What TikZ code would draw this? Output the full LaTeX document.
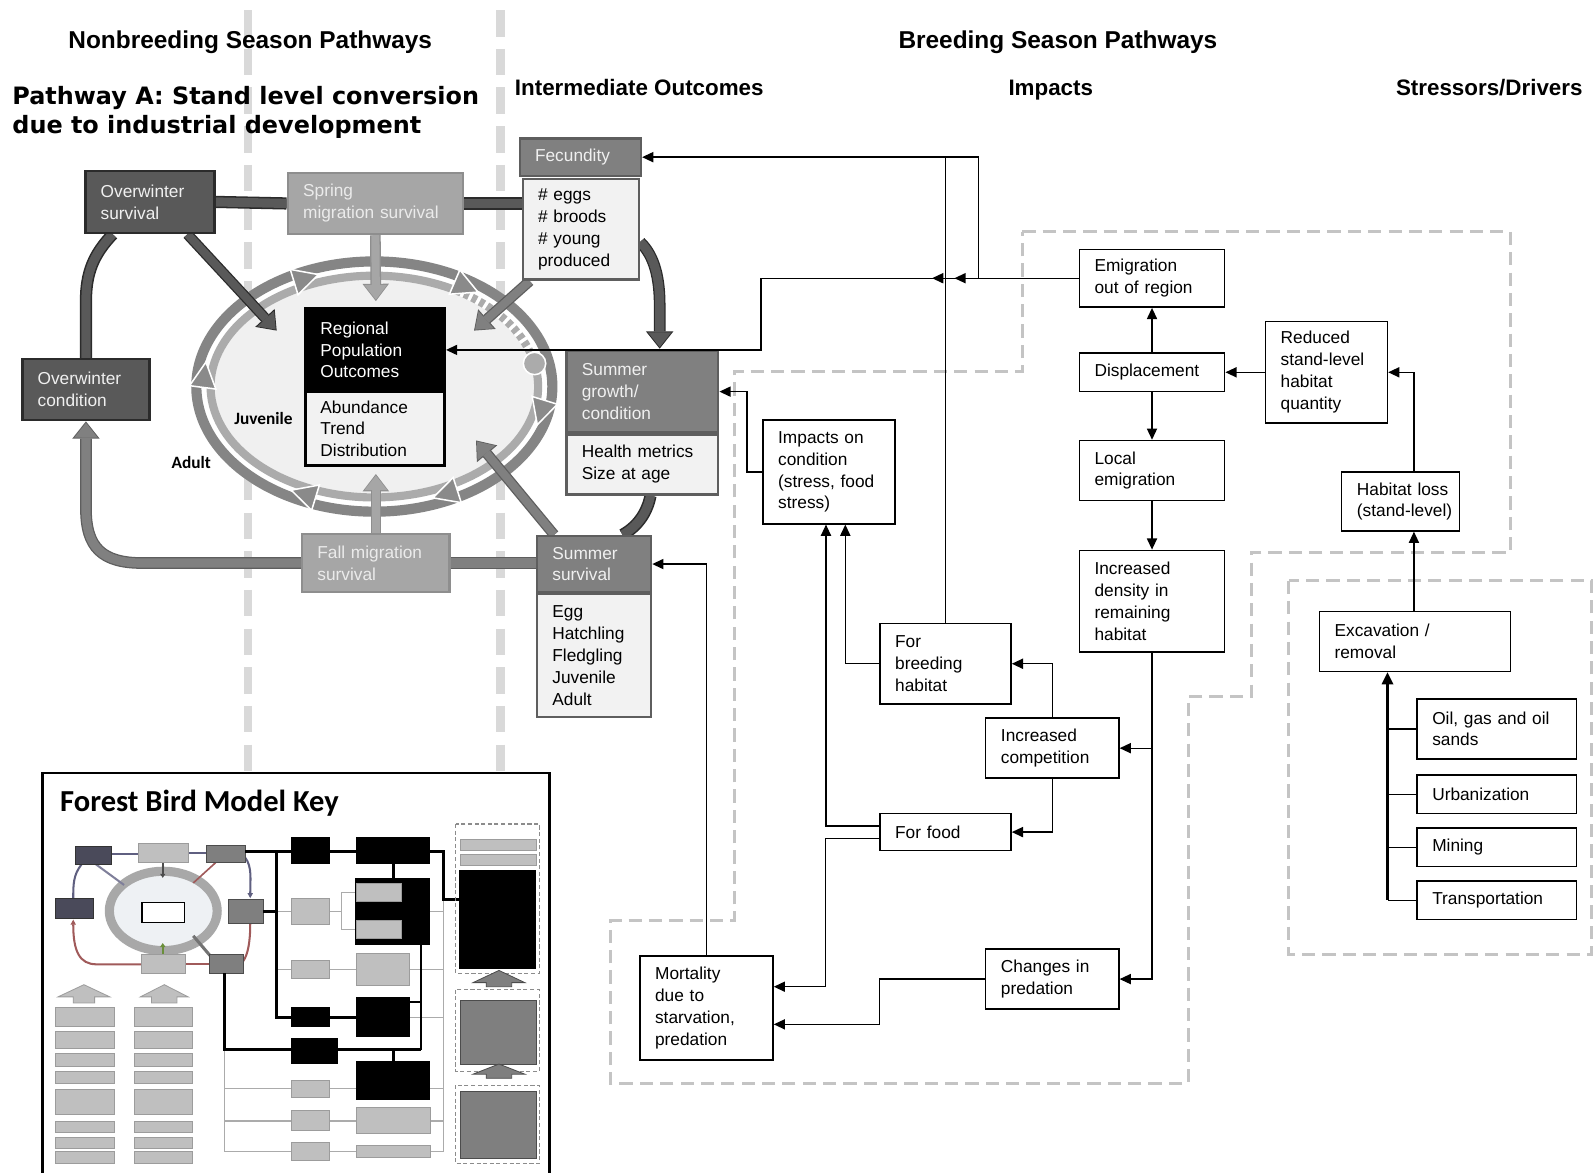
\documentclass[tikz,border=0pt]{standalone}
\usepackage{fontspec}
\setmainfont{Liberation Sans}
\newfontfamily\heavyfont{DejaVu Sans}
\newfontfamily\calfont{Carlito}
\usetikzlibrary{arrows.meta,calc,decorations.markings}
\pgfdeclarelayer{back}
\pgfsetlayers{back,main}

\definecolor{dkfill}{HTML}{595959}
\definecolor{dkedge}{HTML}{2B2B2B}
\definecolor{mdfill}{HTML}{808080}
\definecolor{mdedge}{HTML}{5E5E5E}
\definecolor{ltfill}{HTML}{A6A6A6}
\definecolor{ltedge}{HTML}{8E8E8E}
\definecolor{bodyfill}{HTML}{F2F2F2}
\definecolor{sepgray}{HTML}{D9D9D9}
\definecolor{dashgray}{HTML}{C4C4C4}
\definecolor{ringout}{HTML}{858585}
\definecolor{ringin}{HTML}{ABABAB}
\definecolor{ellfill}{HTML}{F0F0F0}
\definecolor{trifill}{HTML}{8A8A8A}
\definecolor{kdark}{HTML}{4A4A5A}
\definecolor{klight}{HTML}{BFBFBF}
\definecolor{klightedge}{HTML}{9C9C9C}
\definecolor{kmid}{HTML}{7F7F7F}
\definecolor{kpurple}{HTML}{5F5F80}
\definecolor{kred}{HTML}{A05A5A}
\definecolor{kthin}{HTML}{ABABAB}
\definecolor{kring}{HTML}{A8A8A8}
\definecolor{kinner}{HTML}{EEF1F4}
\definecolor{kgreen}{HTML}{6A8F3A}

\tikzset{
  txt/.style={font=\fontsize{17}{21.5}\selectfont, align=left},
  bx/.style={draw=black, line width=1.4pt, fill=white, txt, inner xsep=15pt, inner ysep=0pt},
  lcdark/.style={draw=dkedge, line width=2.5pt, fill=dkfill, text=white!94!black, txt, inner xsep=15pt, inner ysep=0pt},
  lcmid/.style={draw=mdedge, line width=2.5pt, fill=mdfill, text=white!94!black, txt, inner xsep=15pt, inner ysep=0pt},
  lclight/.style={draw=ltedge, line width=2.5pt, fill=ltfill, text=white!92!black, txt, inner xsep=15pt, inner ysep=0pt},
  lcbody/.style={draw=mdedge, line width=2.5pt, fill=bodyfill, text=black, txt, inner xsep=15pt, inner ysep=0pt},
  regtop/.style={draw=black, line width=3pt, fill=black, text=white, txt, inner xsep=15pt, inner ysep=0pt},
  regbody/.style={draw=black, line width=3pt, fill=bodyfill, text=black, txt, inner xsep=15pt, inner ysep=0pt},
  ln/.style={line width=1.3pt},
  arr/.style={line width=1.3pt, -{Triangle[length=11pt,width=10pt]}},
  zone/.style={draw=dashgray, line width=3pt, dash pattern=on 13pt off 7pt},
  sepline/.style={draw=sepgray, line width=8pt, dash pattern=on 26pt off 12pt},
  headfont/.style={font=\bfseries\fontsize{24}{28}\selectfont, inner sep=0pt},
  subfont/.style={font=\bfseries\fontsize{22}{26}\selectfont, inner sep=0pt},
  lifelabel/.style={font=\calfont\bfseries\fontsize{17}{20}\selectfont, inner sep=0pt},
  kthick/.style={line width=2.6pt, draw=black},
  kthinl/.style={line width=1.1pt, draw=kthin},
  kbl/.style={fill=black},
  klt/.style={fill=klight, draw=klightedge, line width=0.8pt},
  kmd/.style={fill=kmid, draw=black!70, line width=0.8pt},
  kdk/.style={fill=kdark, draw=black!80, line width=0.8pt},
  kzone/.style={draw=black!45, line width=1.1pt, dash pattern=on 4pt off 2.5pt},
}

% box from corner coordinates: style, name, x1, y1, x2, y2, text
\newcommand\boxnode[7]{%
  \pgfmathsetmacro\bxcx{(#3+#5)/2}%
  \pgfmathsetmacro\bxcy{(#4+#6)/2}%
  \pgfmathsetmacro\bxw{#5-#3}%
  \pgfmathsetmacro\bxh{#6-#4}%
  \pgfmathsetmacro\bxtw{#5-#3-30}%
  \node[minimum width=\bxw pt, minimum height=\bxh pt, text width=\bxtw pt, #1] (#2) at (\bxcx,\bxcy) {#7};%
}

\begin{document}
\begin{tikzpicture}[x=1pt,y=-1pt]
\useasboundingbox (0,0) rectangle (1568,1153);

% headings
\node[headfont, anchor=base] (hnb) at (246,48) {Nonbreeding Season Pathways};
\node[headfont, anchor=base] (hbr) at (1040,48) {Breeding Season Pathways};
\node[subfont, anchor=base west] (hio) at (506,94) {Intermediate Outcomes};
\node[subfont, anchor=base] (him) at (1033,94) {Impacts};
\node[subfont, anchor=base east] (hsd) at (1556,94) {Stressors/Drivers};
\node[font=\heavyfont\bfseries\fontsize{23.5}{29}\selectfont, anchor=west, align=left, inner sep=0pt] (hpa) at (12,110.5)
  {Pathway A: Stand level conversion\\due to industrial development};

% dashed zones
\draw[zone] (1005,228) -- (1485,228) -- (1485,543) -- (1230,543) -- (1230,685) -- (1168,685)
  -- (1168,1065) -- (600,1065) -- (600,905) -- (722,905) -- (722,365) -- (1005,365) -- cycle;
\draw[zone] (1267,571) rectangle (1565,938);

% ---------- life cycle boxes
\boxnode{lcdark}{owsurv}{84}{168}{211}{229}{Overwinter\\survival}
\boxnode{lclight}{spring}{283}{170}{455}{230}{Spring\\migration survival}
\boxnode{lcmid}{fech}{511}{136}{630}{173}{Fecundity}
\boxnode{lcbody}{fecb}{514}{176}{628}{275}{\# eggs\\\# broods\\\# young\\produced}
\boxnode{lcdark}{owcond}{22}{353}{147}{413}{Overwinter\\condition}
\boxnode{lcmid}{growh}{557}{345}{706}{425}{Summer\\growth/\\condition}
\boxnode{lcbody}{growb}{557}{427}{706}{486}{Health metrics\\Size at age}
\boxnode{lcmid}{survh}{528}{527}{640}{582}{Summer\\survival}
\boxnode{lcbody}{survb}{528}{584}{640}{705}{Egg\\Hatchling\\Fledgling\\Juvenile\\Adult}
\boxnode{lclight}{fall}{297}{525}{442}{582}{Fall migration\\survival}
\boxnode{regtop}{regh}{300}{303}{437}{385}{Regional\\Population\\Outcomes}
\boxnode{regbody}{regb}{300}{385}{437}{458}{Abundance\\Trend\\Distribution}

\begin{pgfonlayer}{back}
\fill[white] (0,0) rectangle (1568,1153);
% season separators
\draw[sepline] (244,10) -- (244,758);
\draw[sepline] (492,10) -- (492,758);

% bars between stages
\draw[line width=12pt, dkedge] (owsurv.east) -- (spring.west);
\draw[line width=9pt, dkfill] (owsurv.east) -- (spring.west);
\draw[line width=12pt, dkedge] (spring.east) -- (spring.east -| fecb.west);
\draw[line width=9pt, dkfill] (spring.east) -- (spring.east -| fecb.west);
\draw[line width=12pt, mdedge] (fall.east) -- (fall.east -| survh.west);
\draw[line width=9pt, mdfill] (fall.east) -- (fall.east -| survh.west);

% overwinter survival to overwinter condition
\draw[line width=12pt, dkedge] ($(owsurv.south west)+(28,0)$) .. controls (92,250) and (84.5,268) .. (84.5,296) -- (owcond.north);
\draw[line width=9pt, dkfill] ($(owsurv.south west)+(28,0)$) .. controls (92,250) and (84.5,268) .. (84.5,296) -- (owcond.north);

% fall migration back to overwinter condition
\draw[line width=11.5pt, mdedge, -{Triangle[length=17pt,width=27pt,line width=0pt]}]
  (fall.west) -- (140,553.5) .. controls (100,553.5) and (84.5,538) .. (84.5,500) -- (owcond.south);
\draw[line width=9pt, mdfill, shorten >=1.5pt, -{Triangle[length=14.5pt,width=23pt,line width=0pt]}]
  (fall.west) -- (140,553.5) .. controls (100,553.5) and (84.5,538) .. (84.5,500) -- (owcond.south);

% fecundity to summer growth
\draw[line width=11.5pt, dkedge, -{Triangle[length=17pt,width=27pt,line width=0pt]}]
  ($(fecb.east)+(0,12.5)$) .. controls (644,252) and (648.5,275) .. (648.5,300) -- ($(growh.north)+(17,-1)$);
\draw[line width=9pt, dkfill, shorten >=1.5pt, -{Triangle[length=14.5pt,width=23pt,line width=0pt]}]
  ($(fecb.east)+(0,12.5)$) .. controls (644,252) and (648.5,275) .. (648.5,300) -- ($(growh.north)+(17,-1)$);

% summer growth to summer survival
\draw[line width=12pt, dkedge] ($(growb.south)+(8,0)$) .. controls (636,505) and (626,518) .. ($(survh.north)+(28,0)$);
\draw[line width=9pt, dkfill] ($(growb.south)+(8,0)$) .. controls (636,505) and (626,518) .. ($(survh.north)+(28,0)$);

% ---------- population ellipse
\coordinate (C) at (368,380);
\fill[white] (C) ellipse [x radius=180, y radius=128];
\fill[ellfill] (C) ellipse [x radius=157, y radius=105];
\draw[ringout, line width=10pt] (C) ellipse [x radius=175, y radius=123];
\draw[ringin, line width=8pt] ($(C)+(350:161 and 109)$) arc[start angle=350, end angle=660, x radius=161, y radius=109];
\draw[ringin, line width=8pt, dash pattern=on 5pt off 3.5pt] ($(C)+(300:161 and 109)$) arc[start angle=300, end angle=342, x radius=161, y radius=109];
\filldraw[fill=ringin, draw=white, line width=1.5pt] ($(C)+(348:161 and 109)$) circle[radius=11];
\foreach \ta in {246,302,12,65,114,185}{
  \pgfmathsetmacro\ang{atan2(-116*cos(\ta),-168*sin(\ta))}
  \begin{scope}[shift={($(C)+(\ta:168 and 116)$)}, rotate=\ang]
    \filldraw[fill=trifill, draw=white, line width=1.5pt] (14,0) -- (-11,13) -- (-11,-13) -- cycle;
  \end{scope}
}

% landing points of the stage arrows on the ring
\coordinate (eNW) at (272,325);
\coordinate (eN) at (369.5,296);
\coordinate (eNE) at (466,325);
\coordinate (eSE) at (468,433);
\coordinate (eS) at (369.5,466);

\draw[line width=10.5pt, dkedge, -{Triangle[length=17pt,width=26pt,line width=0pt]}] ($(owsurv.south east)+(-28,0)$) -- (eNW);
\draw[line width=8pt, dkfill, shorten >=1.4pt, -{Triangle[length=14.5pt,width=22.5pt,line width=0pt]}] ($(owsurv.south east)+(-28,0)$) -- (eNW);
\draw[line width=10.5pt, ltedge, -{Triangle[length=17pt,width=26pt,line width=0pt]}] (spring.south) -- (eN);
\draw[line width=8pt, ltfill, shorten >=1.4pt, -{Triangle[length=14.5pt,width=22.5pt,line width=0pt]}] (spring.south) -- (eN);
\draw[line width=10.5pt, mdedge, -{Triangle[length=17pt,width=26pt,line width=0pt]}] ($(fecb.south west)+(8,0)$) -- (eNE);
\draw[line width=8pt, mdfill, shorten >=1.4pt, -{Triangle[length=14.5pt,width=22.5pt,line width=0pt]}] ($(fecb.south west)+(8,0)$) -- (eNE);
\draw[line width=10.5pt, mdedge, -{Triangle[length=17pt,width=26pt,line width=0pt]}] ($(survh.north west)+(18,0)$) -- (eSE);
\draw[line width=8pt, mdfill, shorten >=1.4pt, -{Triangle[length=14.5pt,width=22.5pt,line width=0pt]}] ($(survh.north west)+(18,0)$) -- (eSE);
\draw[line width=10.5pt, ltedge, -{Triangle[length=17pt,width=26pt,line width=0pt]}] (fall.north) -- (eS);
\draw[line width=8pt, ltfill, shorten >=1.4pt, -{Triangle[length=14.5pt,width=22.5pt,line width=0pt]}] (fall.north) -- (eS);
\end{pgfonlayer}

\node[lifelabel] (juv) at (259,411) {Juvenile};
\node[lifelabel] (adu) at (188,455) {Adult};

% ---------- impact and driver boxes
\boxnode{bx}{emig}{1061}{245}{1204}{302}{Emigration\\out of region}
\boxnode{bx}{disp}{1061}{347}{1204}{385}{Displacement}
\boxnode{bx}{loc}{1061}{433}{1204}{492}{Local\\emigration}
\boxnode{bx}{dens}{1061}{541}{1204}{641}{Increased\\density in\\remaining\\habitat}
\boxnode{bx}{red}{1244}{316}{1364}{416}{Reduced\\stand-level\\habitat\\quantity}
\boxnode{bx}{hab}{1319}{464}{1435}{522}{\mbox{Habitat loss}\\\mbox{(stand-level)}}
\boxnode{bx}{exc}{1297}{601}{1485}{660}{Excavation /\\removal}
\boxnode{bx}{oil}{1393}{687}{1550}{746}{Oil, gas and oil\\sands}
\boxnode{bx}{urb}{1393}{762}{1550}{800}{Urbanization}
\boxnode{bx}{mine}{1393}{814}{1550}{852}{Mining}
\boxnode{bx}{trans}{1393}{866}{1550}{904}{Transportation}
\boxnode{bx}{imp}{750}{413}{880}{515}{Impacts on\\condition\\(stress, food\\stress)}
\boxnode{bx}{brd}{865}{613}{994}{692}{For\\breeding\\habitat}
\boxnode{bx}{comp}{969}{706}{1100}{765}{Increased\\competition}
\boxnode{bx}{food}{865}{800}{994}{836}{For food}
\boxnode{bx}{pred}{969}{933}{1100}{992}{Changes in\\predation}
\boxnode{bx}{mort}{629}{940}{760}{1042}{Mortality\\due to\\starvation,\\predation}

% ---------- thin connectors
\draw[arr] (disp.north) -- (emig.south);
\draw[arr] (disp.south) -- (loc.north);
\draw[arr] (loc.south) -- (dens.north);
\draw[arr] (red.west) -- (disp.east);
\coordinate (hx) at (1390,0);
\draw[arr] (exc.north -| hx) -- (hab.south -| hx);
\draw[arr] (hab.north -| hx) |- (red.east);
\coordinate (sx) at (1364,0);
\draw[ln] (oil.west) -- (oil.west -| sx);
\draw[ln] (urb.west) -- (urb.west -| sx);
\draw[ln] (mine.west) -- (mine.west -| sx);
\draw[ln] (trans.west) -- (trans.west -| sx);
\draw[line width=2.6pt, -{Triangle[length=12pt,width=11pt]}] (trans.west -| sx) -- (exc.south -| sx);

\draw[arr] (dens.south) |- (comp.east);
\draw[arr] (dens.south) |- (pred.east);
\draw[arr] (comp.north) |- (brd.east);
\draw[arr] (comp.south) |- (food.east);
\draw[arr] (brd.west) -| ([xshift=16pt]imp.south);
\draw[arr] ([yshift=6pt]food.west) -| ([xshift=-3pt]imp.south);
\draw[arr] ([yshift=-6pt]food.west) -- ++(-53,0) |- ([yshift=21pt]mort.east);
\draw[arr] (pred.west) -- ++(-104,0) |- ([yshift=-16pt]mort.east);
\draw[arr] (mort.north) |- (survh.east);
\draw[arr] (imp.west) -- ++(-15,0) |- (growh.east);

\draw[arr, postaction={decorate}, decoration={markings,
    mark=at position 122pt with {\arrow{Triangle[length=11pt,width=10pt]}},
    mark=at position 144pt with {\arrow{Triangle[length=11pt,width=10pt]}}}]
  (emig.west) -- (748,273.5) |- (regh.east);
\coordinate (j1) at (962,273.5);
\draw[arr] (j1) |- (fech.east);
\draw[ln] (brd.north) -- (brd.north |- fech.east);

% ---------- model key
\draw[line width=2.5pt, fill=white] (42,760) rectangle (540,1165);
\node[anchor=west, font=\calfont\bfseries\fontsize{30}{36}\selectfont, inner sep=0pt] (keytitle) at (59,790) {Forest Bird Model Key};

% miniature life cycle
\draw[kpurple, line width=2pt] (110,840) -- (136,840);
\draw[kpurple, line width=2pt] (185,839) -- (203,839);
\draw[kpurple, line width=2pt] (80,850) .. controls (72,860) and (72,870) .. (72,883);
\draw[kpurple, line width=2pt, -{Triangle[length=5pt,width=5pt]}] (241,843) .. controls (248,852) and (246,865) .. (246,883);
\draw[kred, line width=2pt, -{Triangle[length=5pt,width=5pt]}] (139,948) -- (95,948) .. controls (78,948) and (72,935) .. (72,904);
\draw[kred, line width=2pt] (182,948) -- (206,948);
\draw[kred, line width=2pt] (246,908) .. controls (246,925) and (244,938) .. (239,945);
\fill[kinner] (160.5,895.5) ellipse [x radius=50, y radius=36];
\draw[kring, line width=9pt] (160.5,895.5) ellipse [x radius=53, y radius=39];
\draw[kpurple!80, line width=2pt] (92,848) -- (122,870);
\draw[kred, line width=1.6pt] (212,848) -- (190,868);
\draw[black!55, line width=3pt] (207,940) -- (190,920);
\draw[black!70, line width=2pt, -{Triangle[length=4pt,width=5pt]}] (160,848) -- (160,863);
\draw[kgreen, line width=2pt, -{Triangle[length=4pt,width=5pt]}] (160,938) -- (160,927);
\filldraw[fill=white, draw=black, line width=1.2pt] (139.5,887) rectangle (181,907);
\filldraw[kdk] (74,832) rectangle (110,850);
\filldraw[klt] (136,829) rectangle (185,848);
\filldraw[kmd] (203,831) rectangle (241,848);
\filldraw[kdk] (54,883) rectangle (92,903);
\filldraw[kmd] (225,884) rectangle (259,908);
\filldraw[klt] (139,938) rectangle (182,957);
\filldraw[kmd] (206,938) rectangle (239,957);

% miniature stage lists
\filldraw[klt] (57,980) -- (82.5,968) -- (108,980) -- (93,980) -- (93,986) -- (72,986) -- (72,980) -- cycle;
\filldraw[klt] (138,980) -- (161.5,968) -- (185,980) -- (174,980) -- (174,986) -- (149,986) -- (149,980) -- cycle;
\foreach \ya/\yb in {990/1009,1014/1031,1036/1048,1053/1065,1071/1096,1102/1113,1118/1129,1132/1144}{
  \filldraw[klt] (54,\ya) rectangle (112,\yb);
  \filldraw[klt] (132,\ya) rectangle (189,\yb);
}

% miniature network
\draw[kthinl] (272,896) -- (286,896);
\draw[kthinl] (324,896) -- (336,896) (336,877) -- (336,914) (336,877) -- (350,877) (336,914) -- (350,914);
\draw[kthinl] (423,896) -- (436,896);
\draw[kthinl] (436,884) -- (436,1132);
\draw[kthinl] (272,953) -- (286,953) (324,953) -- (350,953) (402,953) -- (436,953);
\draw[kthinl] (403,1000) -- (436,1000);
\draw[kthinl] (221,1032) -- (221,1132);
\foreach \yr in {1070,1102,1132}{
  \draw[kthinl] (221,\yr) -- (286,\yr) (324,\yr) -- (350,\yr) (423,\yr) -- (436,\yr);
}
\draw[kthick] (241,837) -- (286,837);
\draw[kthick] (272,837) -- (272,1000) -- (286,1000);
\draw[kthick] (259,896) -- (272,896);
\draw[kthick] (324,837) -- (350,837);
\draw[kthick] (423,837) -- (436,837) -- (436,884) -- (451,884);
\draw[kthick] (387,849) -- (387,863);
\draw[kthick] (324,1000) -- (350,1000);
\draw[kthick] (414,929) -- (414,1032);
\draw[kthick] (403,985) -- (414,985);
\draw[kthick] (221,957) -- (221,1032) -- (286,1032);
\draw[kthick] (332,1032) -- (414,1032);
\draw[kthick] (387,1032) -- (387,1043);
\fill[kbl] (286,823) rectangle (324,849);
\fill[kbl] (350,823) rectangle (423,849);
\fill[kbl] (349,863) rectangle (423,929);
\filldraw[klt] (350,868) rectangle (395,886);
\filldraw[klt] (350,905) rectangle (395,923);
\filldraw[klt] (286,883) rectangle (324,909);
\filldraw[klt] (286,944) rectangle (324,962);
\filldraw[klt] (350,937) rectangle (402,969);
\fill[kbl] (286,990) rectangle (324,1010);
\fill[kbl] (350,980) rectangle (403,1019);
\fill[kbl] (286,1020) rectangle (332,1046);
\fill[kbl] (350,1043) rectangle (423,1081);
\filldraw[klt] (286,1062) rectangle (324,1079);
\filldraw[klt] (350,1089) rectangle (423,1114);
\filldraw[klt] (286,1092) rectangle (324,1111);
\filldraw[klt] (286,1123) rectangle (324,1141);
\filldraw[klt] (350,1126) rectangle (423,1138);

% miniature hierarchy column
\draw[kzone] (448,810) rectangle (530,957);
\filldraw[klt] (453,825) rectangle (527,836);
\filldraw[klt] (453,840) rectangle (527,851);
\fill[kbl] (451,855) rectangle (527,953);
\filldraw[kmd] (465,966) -- (490.5,954) -- (516,966) -- (503,966) -- (503,970) -- (478,970) -- (478,966) -- cycle;
\draw[kzone] (448,973) rectangle (530,1053);
\filldraw[kmd] (453,983) rectangle (527,1046);
\filldraw[kmd] (465,1056) -- (490.5,1046) -- (516,1056) -- (503,1056) -- (503,1060) -- (478,1060) -- (478,1056) -- cycle;
\draw[kzone] (448,1067) rectangle (530,1144);
\filldraw[kmd] (453,1073) rectangle (527,1139);
\end{tikzpicture}
\end{document}
